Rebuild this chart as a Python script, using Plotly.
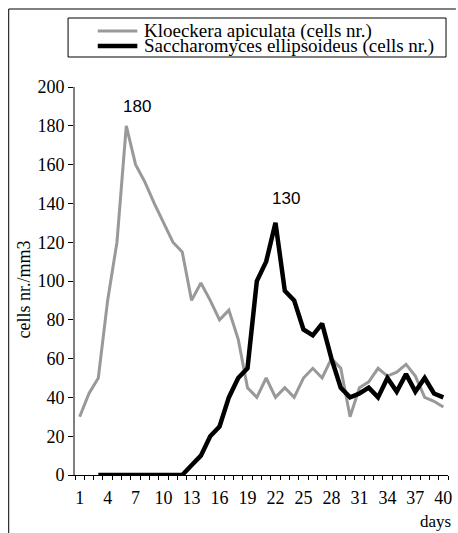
import plotly.graph_objects as go

days = list(range(1, 41))
kloeckera = [30, 42, 50, 90, 120, 180, 160, 151, 140, 130, 120, 115, 90, 99, 90, 80, 85, 70, 45, 40,
             50, 40, 45, 40, 50, 55, 50, 60, 55, 30, 45, 48, 55, 51, 53, 57, 51, 40, 38, 35]
saccharomyces = [None, None, 0, 0, 0, 0, 0, 0, 0, 0, 0, 0, 5, 10, 20, 25, 40, 50, 55, 100,
                 110, 130, 95, 90, 75, 72, 78, 60, 45, 40, 42, 45, 40, 50, 43, 52, 43, 50, 42, 40]
names = ["Kloeckera apiculata (cells nr.)", "Saccharomyces ellipsoideus (cells nr.)"]
x_tick_days = days[::3]
x_tick_labels = [str(d) for d in x_tick_days]
peaks = [(6, 180), (22, 130)]

W, H = 458, 533
L, R, T, B = 75, 6, 87, 58
PW, PH = W - L - R, H - T - B

def px(x):
    return (x - L) / PW

def py(y):
    return (H - B - y) / PH

GRAY = "#999999"
SERIF = "Liberation Serif, Times New Roman, serif"
SANS = "Liberation Sans, Arial, sans-serif"

fig = go.Figure()
fig.add_trace(go.Scatter(x=days, y=kloeckera, mode="lines", name=names[0],
                         line=dict(color=GRAY, width=3), showlegend=False))
fig.add_trace(go.Scatter(x=days, y=saccharomyces, mode="lines", name=names[1],
                         line=dict(color="black", width=4.5), showlegend=False))

annotations = []
shifts = [(11, 19), (11, 24)]
for (d, v), (xs, ys) in zip(peaks, shifts):
    annotations.append(dict(x=d, y=v, xref="x", yref="y", text=str(v), showarrow=False,
                            xshift=xs, yshift=ys, font=dict(family=SANS, size=17, color="black")))

# manual legend
shapes = [
    dict(type="rect", xref="paper", yref="paper", x0=px(68), x1=px(450), y0=py(57), y1=py(18),
         line=dict(color="black", width=1), fillcolor="white", layer="below"),
    dict(type="line", xref="paper", yref="paper", x0=px(98), x1=px(138), y0=py(31), y1=py(31),
         line=dict(color=GRAY, width=3)),
    dict(type="line", xref="paper", yref="paper", x0=px(98), x1=px(138), y0=py(46), y1=py(46),
         line=dict(color="black", width=4.5)),
    # outer frame
    dict(type="line", xref="paper", yref="paper", x0=px(8), x1=px(460), y0=py(9), y1=py(9),
         line=dict(color="black", width=1)),
    dict(type="line", xref="paper", yref="paper", x0=px(8), x1=px(8), y0=py(9), y1=py(540),
         line=dict(color="black", width=1)),
]
for name, yy in zip(names, [31, 46]):
    annotations.append(dict(x=px(143), y=py(yy), xref="paper", yref="paper", text=name,
                            showarrow=False, xanchor="left", yanchor="middle",
                            font=dict(family=SERIF, size=19, color="black")))

annotations.append(dict(x=px(457), y=py(521), xref="paper", yref="paper", text="days",
                        showarrow=False, xanchor="right", yanchor="middle",
                        font=dict(family=SERIF, size=17, color="black")))
annotations.append(dict(x=px(23), y=py(290), xref="paper", yref="paper", text="cells nr./mm3",
                        showarrow=False, textangle=-90, xanchor="center", yanchor="middle",
                        font=dict(family=SERIF, size=18, color="black")))

fig.update_layout(
    width=W, height=H,
    margin=dict(l=L, r=R, t=T, b=B, pad=0),
    plot_bgcolor="white", paper_bgcolor="white",
    showlegend=False,
    shapes=shapes, annotations=annotations,
    xaxis=dict(range=[0.5, 40.5], tickmode="array", tickvals=x_tick_days, ticktext=x_tick_labels,
               ticks="", showgrid=False, zeroline=False, showline=True, linecolor="black",
               linewidth=1, tickfont=dict(family=SERIF, size=18, color="black"),
               ticklabelstandoff=6,
               minor=dict(ticks="outside", tick0=0.5, dtick=1, ticklen=4, tickcolor="black",
                          tickwidth=1, showgrid=False)),
    yaxis=dict(range=[0, 200], dtick=20, ticks="outside", ticklen=5, tickcolor="black",
               tickwidth=1, showgrid=False, zeroline=False, showline=True, linecolor="#808080",
               linewidth=2, tickfont=dict(family=SERIF, size=18, color="black")),
)
fig.write_html("out.html", config={"displayModeBar": False},
               post_script="document.body.style.margin='0';document.body.style.overflow='hidden';")
